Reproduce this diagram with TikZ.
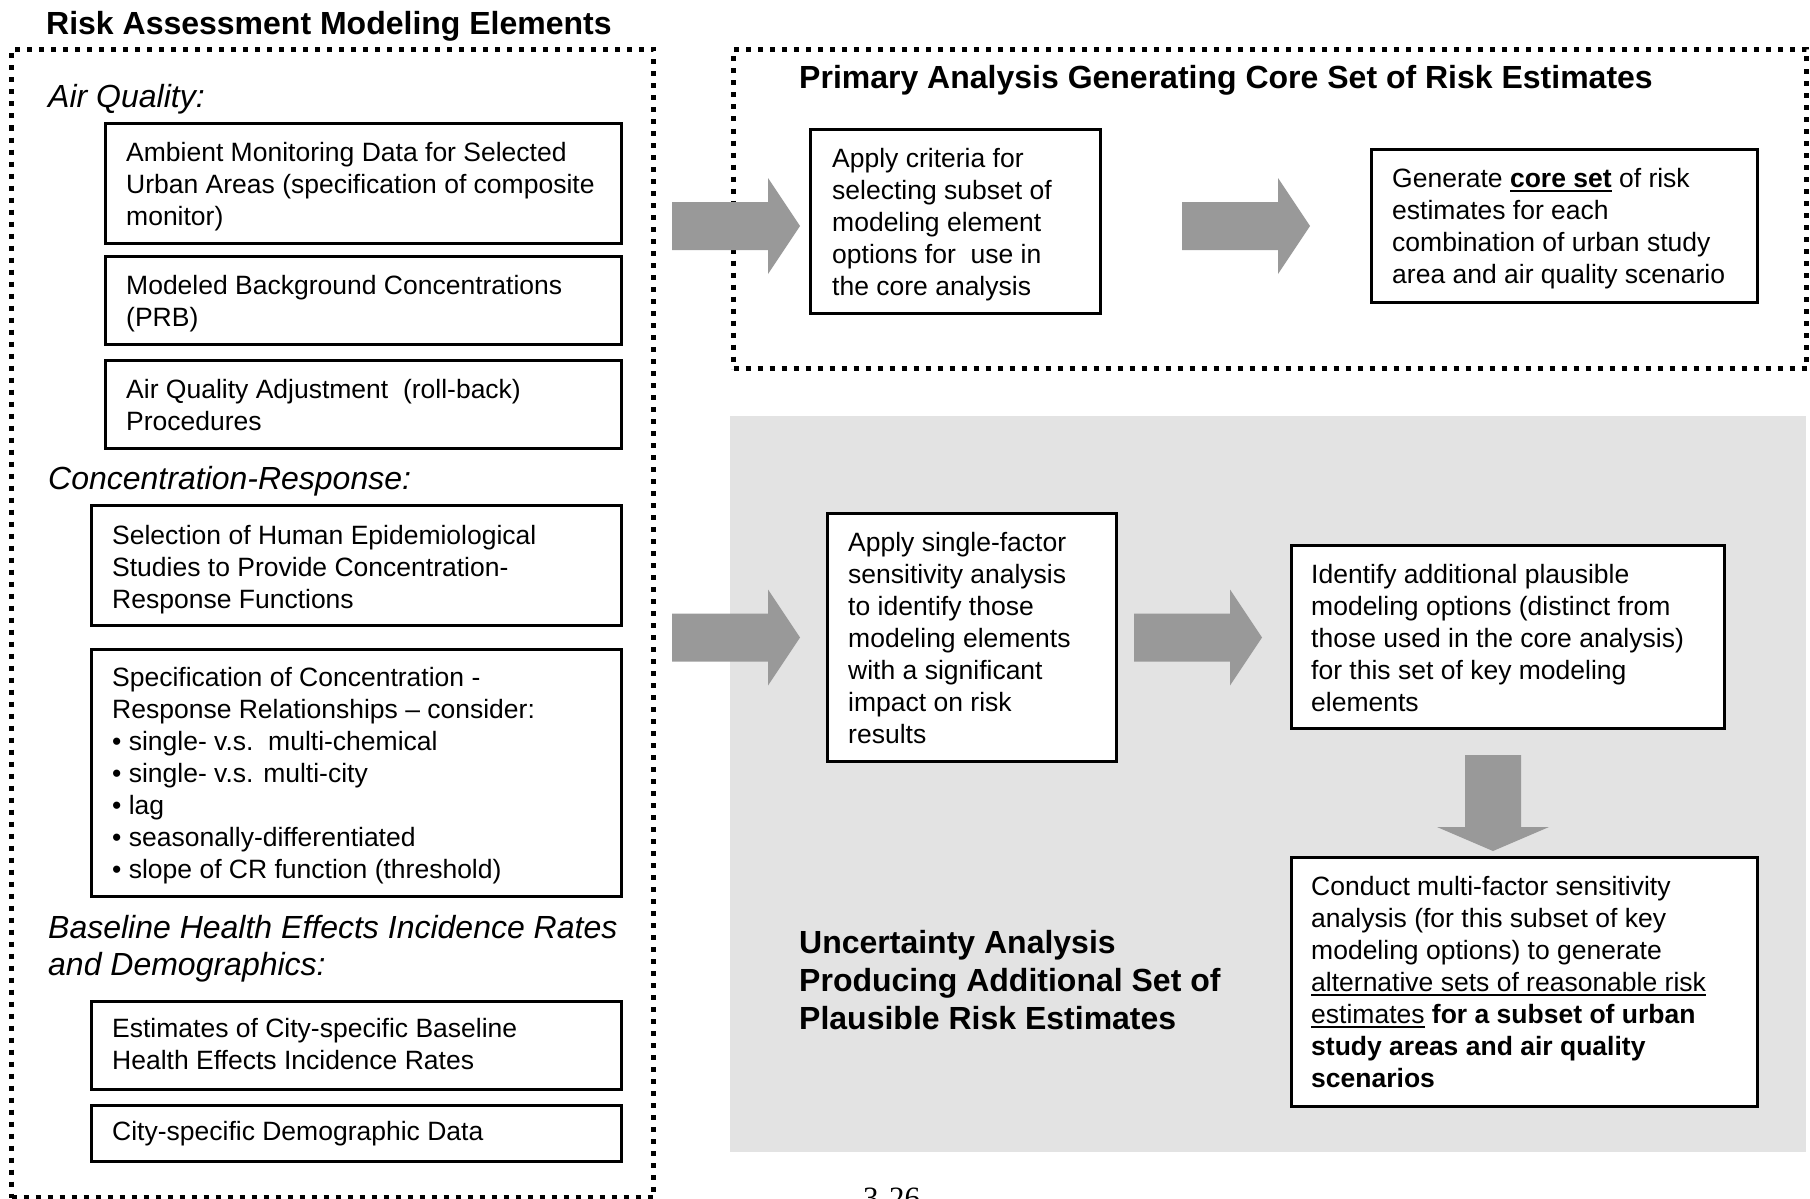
\documentclass[tikz,border=0pt]{standalone}
\usepackage{fontspec}
\setmainfont{Liberation Sans}
\newfontfamily\pagenumfont{Liberation Serif}
\usetikzlibrary{calc}

% underline with a fixed offset and thickness
\newlength\ulw
\newcommand\uln[1]{\settowidth{\ulw}{#1}\rlap{\rule[-4.5pt]{\ulw}{2.2pt}}#1}
% fixed first-line heights so text blocks can be placed by their first baseline
\newcommand\topb{\rule{0pt}{20pt}}
\newcommand\toph{\rule{0pt}{24pt}}

\tikzset{
  dotbox/.style={draw, line width=5pt, dash pattern=on 5pt off 7pt, inner sep=0pt, anchor=north west},
  elbox/.style={draw, line width=3pt, fill=white, inner sep=0pt, anchor=north west},
  shade/.style={fill=black!11, inner sep=0pt, anchor=north west},
  bodytext/.style={anchor=north west, inner sep=0pt, align=left, font=\fontsize{26.5}{32}\selectfont},
  headtext/.style={anchor=north west, inner sep=0pt, align=left, font=\fontsize{32}{37}\selectfont\itshape},
  titletext/.style={anchor=north west, inner sep=0pt, align=left, font=\fontsize{32}{38}\selectfont\bfseries},
  arrowfill/.style={fill=black!40},
}

\newcommand\rightblock[1]{\fill[arrowfill, shift={(#1)}] (0,-24) -- (96,-24) -- (96,-48) -- (128,0) -- (96,48) -- (96,24) -- (0,24) -- cycle;}
\newcommand\downblock[1]{\fill[arrowfill, shift={(#1)}] (-28,0) -- (-28,72) -- (-56,72) -- (0,96) -- (56,72) -- (28,72) -- (28,0) -- cycle;}

\begin{document}
\begin{tikzpicture}[x=1pt, y=-1pt]
\useasboundingbox (0,0) rectangle (1810,1199);

% shaded area of the uncertainty analysis
\node[shade, minimum width=1076pt, minimum height=736pt] (uncert) at (730,416) {};

% dotted containers
\node[dotbox, minimum width=642pt, minimum height=1148pt] (elements) at (9,47) {};
\node[dotbox, minimum width=1073pt, minimum height=319pt] (primary) at (731,47) {};

% modeling element boxes
\node[elbox, minimum width=516pt, minimum height=120pt] (aq1) at (104,122) {};
\node[elbox, minimum width=516pt, minimum height=88pt] (aq2) at (104,255) {};
\node[elbox, minimum width=516pt, minimum height=88pt] (aq3) at (104,359) {};
\node[elbox, minimum width=530pt, minimum height=120pt] (cr1) at (90,504) {};
\node[elbox, minimum width=530pt, minimum height=247pt] (cr2) at (90,648) {};
\node[elbox, minimum width=530pt, minimum height=88pt] (bh1) at (90,1000) {};
\node[elbox, minimum width=530pt, minimum height=56pt] (bh2) at (90,1104) {};

% analysis step boxes
\node[elbox, minimum width=290pt, minimum height=184pt] (crit) at (809,128) {};
\node[elbox, minimum width=386pt, minimum height=153pt] (core) at (1370,148) {};
\node[elbox, minimum width=289pt, minimum height=248pt] (single) at (826,512) {};
\node[elbox, minimum width=433pt, minimum height=183pt] (identify) at (1290,544) {};
\node[elbox, minimum width=466pt, minimum height=249pt] (conduct) at (1290,856) {};

% block arrows
\coordinate (a1) at ([xshift=16pt]elements.east |- core.east);
\coordinate (a2) at ([xshift=80pt]crit.east |- core.east);
\coordinate (a3) at ([xshift=16pt]elements.east |- single.east);
\coordinate (a4) at ([xshift=16pt]single.east);
\coordinate (a5) at ([xshift=-15pt, yshift=-25pt]identify.south);
\rightblock{a1}
\rightblock{a2}
\rightblock{a3}
\rightblock{a4}
\downblock{a5}

% headings
\node[titletext] (ttl) at (46,10) {\toph Risk Assessment Modeling Elements};
\node[headtext] (haq) at (48,83) {\toph Air Quality:};
\node[headtext] (hcr) at (48,465) {\toph Concentration-Response:};
\node[headtext] (hbh) at (48,914) {\toph Baseline Health Effects Incidence Rates\\and Demographics:};
\node[titletext] (tprim) at (799,64) {\toph Primary Analysis Generating Core Set of Risk Estimates};
\node[titletext] (tunc) at (799,929) {\toph Uncertainty Analysis\\Producing Additional Set of\\Plausible Risk Estimates};

% box texts
\node[bodytext] (taq1) at (126,141) {\topb Ambient Monitoring Data for Selected\\Urban Areas (specification of composite\\monitor)};
\node[bodytext] (taq2) at (126,274) {\topb Modeled Background Concentrations\\(PRB)};
\node[bodytext] (taq3) at (126,378) {\topb Air Quality Adjustment\ \ (roll-back)\\Procedures};
\node[bodytext] (tcr1) at (112,524) {\topb Selection of Human Epidemiological\\Studies to Provide Concentration-\\Response Functions};
\node[bodytext] (tcr2) at (112,666) {\topb Specification of Concentration -\\Response Relationships – consider:\\• single- v.s.\ \ multi-chemical\\• single- v.s. multi-city\\• lag\\• seasonally-differentiated\\• slope of CR function (threshold)};
\node[bodytext] (tbh1) at (112,1017) {\topb Estimates of City-specific Baseline\\Health Effects Incidence Rates};
\node[bodytext] (tbh2) at (112,1120) {\topb City-specific Demographic Data};

\node[bodytext] (tcrit) at (832,147) {\topb Apply criteria for\\selecting subset of\\modeling element\\options for\ \ use in\\the core analysis};
\node[bodytext] (tcore) at (1392,167) {\topb Generate \textbf{\uln{core set}} of risk\\estimates for each\\combination of urban study\\area and air quality scenario};
\node[bodytext] (tsingle) at (848,531) {\topb Apply single-factor\\sensitivity analysis\\to identify those\\modeling elements\\with a significant\\impact on risk\\results};
\node[bodytext] (tident) at (1311,563) {\topb Identify additional plausible\\modeling options (distinct from\\those used in the core analysis)\\for this set of key modeling\\elements};
\node[bodytext] (tcond) at (1311,875) {\topb Conduct multi-factor sensitivity\\analysis (for this subset of key\\modeling options) to generate\\\uln{alternative sets of reasonable risk}\\\uln{estimates} \textbf{for a subset of urban}\\\textbf{study areas and air quality}\\\textbf{scenarios}};

% page number
\node[anchor=base west, inner sep=0pt, font=\fontsize{31}{36}\selectfont\pagenumfont] (pnum) at (863,1208) {3-26};
\end{tikzpicture}
\end{document}
